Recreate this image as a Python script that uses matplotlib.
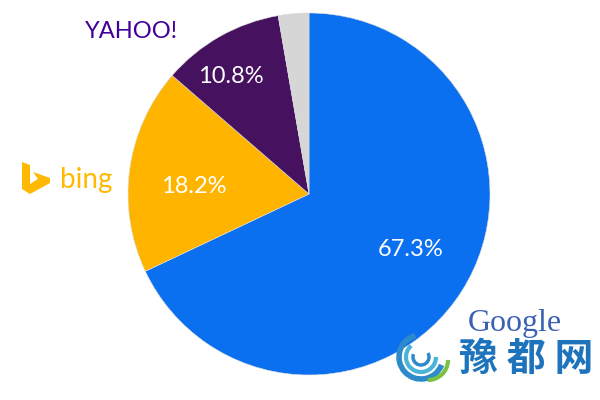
import matplotlib
matplotlib.use("Agg")
import matplotlib.pyplot as plt
import numpy as np
from matplotlib.patches import Polygon, Arc

# Data
engines = ["Google", "Bing", "Yahoo", "Other"]
shares = [67.3, 18.2, 10.8, 2.7]
labels = ["67.3%", "18.2%", "10.8%", ""]
colors = ["#0A70F0", "#FFB500", "#46115E", "#D6D6D6"]
label_radius = [0.64, 0.64, 0.78, 0.0]

fig = plt.figure(figsize=(6, 4), dpi=100)
W, H = 600.0, 400.0
cx, cy, r = 309, 194, 181
ax = fig.add_axes([(cx - r) / W, (H - cy - r) / H, 2 * r / W, 2 * r / H])
wedges, _ = ax.pie(shares, colors=colors, startangle=90, counterclock=False,
                   wedgeprops=dict(linewidth=0.4, edgecolor="#dddddd"))
ax.set_xlim(-1, 1)
ax.set_ylim(-1, 1)
ax.set_aspect("equal")
ax.axis("off")

for w, lab, rr in zip(wedges, labels, label_radius):
    if not lab:
        continue
    ang = np.deg2rad((w.theta1 + w.theta2) / 2 + 4)
    ax.text(rr * np.cos(ang), rr * np.sin(ang), lab, ha="center", va="center",
            color="white", fontsize=17, family="Lato", fontweight="normal")

def px(x, y):
    return (x / W, 1 - y / H)

# Yahoo logo text
fig.text(*px(132, 32), "YAHOO!", ha="center", va="center", color="#400099",
         fontsize=17, family="Lato", fontweight="normal")

# Bing logo
bing_pts = [(22, 162), (30, 165), (30, 184), (38, 179), (33, 172), (50, 178),
            (50, 183), (30, 194), (22, 189)]
fig.patches.append(Polygon([px(x, y) for x, y in bing_pts], closed=True,
                           transform=fig.transFigure, facecolor="#FFB900",
                           edgecolor="none"))
fig.text(*px(86, 180), "bing", ha="center", va="center", color="#FFB900",
         fontsize=20, family="Lato")

# Watermark
fig.text(*px(515, 324), "Google", ha="center", va="center", color="#3B62B2",
         fontsize=23, family="Liberation Serif")
fig.text(*px(526, 359), "豫 都 网", ha="center", va="center", color="#1E74BC",
         fontsize=28, fontweight="bold", family=["Noto Sans CJK SC", "DejaVu Sans"])
for (w_, h_, t1, t2, c, lw) in [(44, 44, 100, 330, "#2E8BC9", 4),
                                (30, 30, 120, 360, "#49B3D9", 3),
                                (16, 16, 150, 400, "#2E8BC9", 2.5)]:
    fig.patches.append(Arc(px(421, 357), w_ / W, h_ / H, theta1=t1, theta2=t2,
                           transform=fig.transFigure, color=c, lw=lw))
fig.patches.append(Arc(px(428, 360), 40 / W, 40 / H, theta1=270, theta2=360,
                       transform=fig.transFigure, color="#7CC242", lw=3))

fig.savefig("out.png", dpi=100)
